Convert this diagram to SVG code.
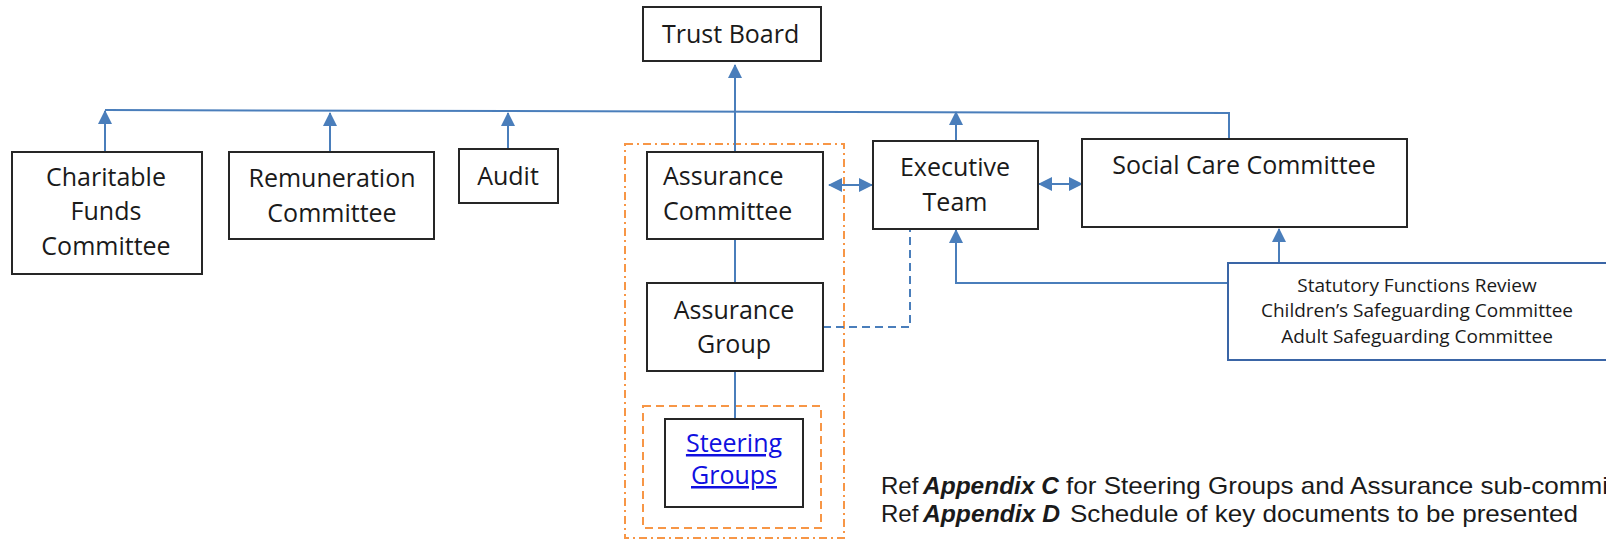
<svg xmlns="http://www.w3.org/2000/svg" width="1606" height="539" viewBox="0 0 1606 539">
  <style>
    .box { fill: #ffffff; stroke: #262626; stroke-width: 2; }
    .bluebox { fill: #ffffff; stroke: #3a65a6; stroke-width: 2; }
    .lbl { font-family: "Open Sans", "Noto Sans", "Liberation Sans", sans-serif; font-size: 25px; fill: #1a1a1a; }
    .mid { text-anchor: middle; }
    .small { font-size: 19px; }
    .link { fill: #1010e0; text-decoration: underline; }
    .conn { fill: none; stroke: #4a7ebb; stroke-width: 2; }
    .dashed { stroke-dasharray: 8 5; }
    .group-outer { fill: none; stroke: #f79646; stroke-width: 2; stroke-dasharray: 8 4 2 4; }
    .group-inner { fill: none; stroke: #f79646; stroke-width: 2; stroke-dasharray: 8 5; }
    .note { font-family: "Liberation Sans", Arial, sans-serif; font-size: 24px; fill: #1a1a1a; }
    .em { font-weight: bold; font-style: italic; }
  </style>
  <defs>
    <marker id="arrow" markerUnits="userSpaceOnUse" markerWidth="14" markerHeight="14" refX="13" refY="7" orient="auto-start-reverse">
      <path d="M0,0 L14,7 L0,14 z" fill="#4a7ebb"/>
    </marker>
  </defs>

  <!-- grouping frames -->
  <rect class="group-outer" x="625" y="144" width="219" height="394"/>
  <rect class="group-inner" x="643" y="406" width="178" height="122"/>

  <!-- connectors -->
  <g id="connectors">
    <polyline class="conn" points="105,110 1229,113 1229,139"/>
    <line class="conn" x1="105" y1="152" x2="105" y2="111" marker-end="url(#arrow)"/>
    <line class="conn" x1="330" y1="152" x2="330" y2="113" marker-end="url(#arrow)"/>
    <line class="conn" x1="508" y1="149" x2="508" y2="113" marker-end="url(#arrow)"/>
    <line class="conn" x1="735" y1="152" x2="735" y2="65" marker-end="url(#arrow)"/>
    <line class="conn" x1="956" y1="141" x2="956" y2="112" marker-end="url(#arrow)"/>
    <line class="conn" x1="829" y1="185" x2="872" y2="185" marker-start="url(#arrow)" marker-end="url(#arrow)"/>
    <line class="conn" x1="1039" y1="184" x2="1082" y2="184" marker-start="url(#arrow)" marker-end="url(#arrow)"/>
    <polyline class="conn" points="1228,283 956,283 956,230" marker-end="url(#arrow)"/>
    <line class="conn" x1="1279" y1="263" x2="1279" y2="229" marker-end="url(#arrow)"/>
    <line class="conn" x1="735" y1="239" x2="735" y2="283"/>
    <line class="conn" x1="735" y1="371" x2="735" y2="419"/>
    <polyline class="conn dashed" points="823,327 910,327 910,229"/>
  </g>

  <g id="trust-board">
    <rect class="box" x="643" y="7" width="178" height="54"/>
    <text class="lbl" x="662" y="43">Trust Board</text>
  </g>

  <g id="charitable-funds">
    <rect class="box" x="12" y="152" width="190" height="122"/>
    <text class="lbl mid" x="106" y="186">Charitable</text>
    <text class="lbl mid" x="106" y="220">Funds</text>
    <text class="lbl mid" x="106" y="255">Committee</text>
  </g>

  <g id="remuneration">
    <rect class="box" x="229" y="152" width="205" height="87"/>
    <text class="lbl mid" x="332" y="187">Remuneration</text>
    <text class="lbl mid" x="332" y="222">Committee</text>
  </g>

  <g id="audit">
    <rect class="box" x="459" y="149" width="99" height="54"/>
    <text class="lbl mid" x="508" y="185">Audit</text>
  </g>

  <g id="assurance-committee">
    <rect class="box" x="647" y="152" width="176" height="87"/>
    <text class="lbl" x="663" y="185">Assurance</text>
    <text class="lbl" x="663" y="220">Committee</text>
  </g>

  <g id="executive-team">
    <rect class="box" x="873" y="141" width="165" height="88"/>
    <text class="lbl mid" x="955" y="176">Executive</text>
    <text class="lbl mid" x="955" y="211">Team</text>
  </g>

  <g id="social-care">
    <rect class="box" x="1082" y="139" width="325" height="88"/>
    <text class="lbl mid" x="1244" y="174">Social Care Committee</text>
  </g>

  <g id="statutory-functions">
    <rect class="bluebox" x="1228" y="263" width="400" height="97"/>
    <text class="lbl small mid" x="1417" y="292">Statutory Functions Review</text>
    <text class="lbl small mid" x="1417" y="317">Children’s Safeguarding Committee</text>
    <text class="lbl small mid" x="1417" y="343">Adult Safeguarding Committee</text>
  </g>

  <g id="assurance-group">
    <rect class="box" x="647" y="283" width="176" height="88"/>
    <text class="lbl mid" x="734" y="319">Assurance</text>
    <text class="lbl mid" x="734" y="353">Group</text>
  </g>

  <g id="steering-groups">
    <rect class="box" x="665" y="419" width="138" height="88"/>
    <text class="lbl mid link" x="734" y="452">Steering</text>
    <text class="lbl mid link" x="734" y="484">Groups</text>
  </g>

  <g id="notes">
    <text class="note"><tspan x="881" y="494">Ref</tspan><tspan class="em" x="923" y="494" textLength="136" lengthAdjust="spacingAndGlyphs">Appendix C</tspan><tspan x="1066" y="494" textLength="542" lengthAdjust="spacingAndGlyphs">for Steering Groups and Assurance sub-commi</tspan><tspan x="881" y="522">Ref</tspan><tspan class="em" x="923" y="522" textLength="137" lengthAdjust="spacingAndGlyphs">Appendix D</tspan><tspan x="1070" y="522" textLength="508" lengthAdjust="spacingAndGlyphs">Schedule of key documents to be presented</tspan></text>
  </g>
</svg>
